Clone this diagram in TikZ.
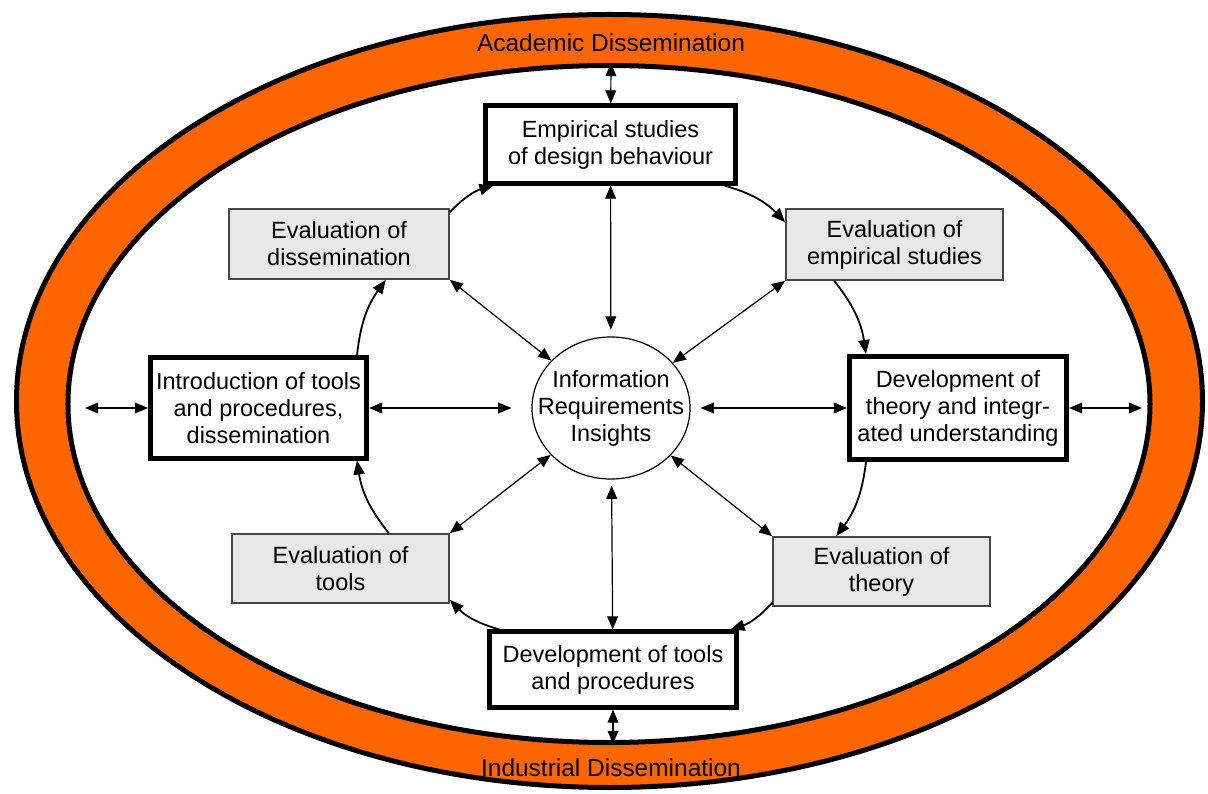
\documentclass[tikz,border=0pt]{standalone}
\usepackage{fontspec}
\setmainfont{Liberation Sans}
\usetikzlibrary{arrows.meta,shapes.geometric}

\definecolor{bandorange}{RGB}{255,102,0}
\definecolor{evalgray}{RGB}{232,232,232}
\definecolor{evalborder}{RGB}{70,70,70}

\tikzset{
  stagebox/.style={draw,line width=0.125cm,fill=white,align=center,inner sep=0pt},
  evalbox/.style={draw=evalborder,line width=0.04cm,fill=evalgray,align=center,inner sep=0pt,minimum width=5.425cm},
  twoway/.style={{Triangle[length=0.33cm,width=0.27cm]}-{Triangle[length=0.33cm,width=0.27cm]},line width=0.03cm},
  roundtrip/.style={-{Triangle[length=0.35cm,width=0.28cm]},line width=0.045cm,bend left=15}
}

\begin{document}
\begin{tikzpicture}[x=0.025cm,y=0.025cm,font=\fontsize{16.7}{19.2}\selectfont]
  \useasboundingbox (-609,-390) rectangle (599,404);
  \draw[line width=0.125cm,fill=bandorange] (0.5,3) ellipse [x radius=593,y radius=386.5];
  \draw[line width=0.125cm,fill=white] (0,0) ellipse [x radius=541,y radius=338.5];
  \node[font=\fontsize{17.4}{20}\selectfont] (academic) at (2,361) {Academic Dissemination};
  \node[font=\fontsize{17.4}{20}\selectfont] (industrial) at (2,-364) {Industrial Dissemination};
  \coordinate (academic end) at (2,341);
  \coordinate (industrial end) at (4,-340);
  \coordinate (left end) at (-524,-4);
  \coordinate (right end) at (533,-4);

  \node[stagebox,minimum width=6.225cm,minimum height=1.925cm] (empirical) at (1.5,259.5) {Empirical studies\\of design behaviour};
  \node[stagebox,minimum width=5.425cm,minimum height=2.575cm] (theory) at (349,-4) {Development of\\theory and integr-\\ated understanding};
  \node[stagebox,minimum width=6.15cm,minimum height=1.875cm] (tools) at (4,-265.5) {Development of tools\\and procedures};
  \node[stagebox,minimum width=5.4cm,minimum height=2.5cm] (intro) at (-350.5,-4) {Introduction of tools\\and procedures,\\dissemination};
  \node[draw,ellipse,line width=0.03cm,fill=white,minimum width=3.95cm,minimum height=3.55cm,inner sep=0pt,label={[align=center]center:Information\\Requirements\\Insights}] (insights) at (2,-4) {};

  \node[evalbox,minimum width=5.5cm,minimum height=1.75cm] (eval dissemination) at (-270,160) {Evaluation of\\dissemination};
  \node[evalbox,minimum height=1.775cm] (eval empirical) at (285.5,159.5) {Evaluation of\\empirical studies};
  \node[evalbox,minimum height=1.725cm] (eval tools) at (-268.5,-164.5) {Evaluation of\\tools};
  \node[evalbox,minimum height=1.725cm] (eval theory) at (272.5,-167.5) {Evaluation of\\theory};

  \draw[twoway] (academic end) -- (empirical);
  \draw[twoway] (tools) -- (industrial end);
  \draw[twoway] (left end) -- (intro);
  \draw[twoway] (theory) -- (right end);
  \draw[twoway,shorten >=0.5cm] (intro) -- (insights);
  \draw[twoway,shorten <=0.25cm] (insights) -- (theory);
  \draw[twoway,shorten >=0.17cm] (empirical) -- (insights);
  \draw[twoway,shorten <=0.15cm] (insights) -- (tools);
  \draw[twoway] (insights) -- (eval dissemination.south east);
  \draw[twoway] (insights) -- (eval empirical.south west);
  \draw[twoway] (insights) -- (eval tools.north east);
  \draw[twoway] (insights) -- (eval theory.north west);

  \draw[roundtrip] ([xshift=-0.325cm]empirical.south east) to ([yshift=-0.35cm]eval empirical.north west);
  \draw[roundtrip] ([xshift=1.225cm]eval empirical.south west) to ([xshift=0.475cm]theory.north west);
  \draw[roundtrip] ([xshift=0.475cm]theory.south west) to ([xshift=1.6cm]eval theory.north west);
  \draw[roundtrip] ([yshift=0.1cm]eval theory.south west) to ([xshift=-0.2cm]tools.north east);
  \draw[roundtrip] ([xshift=0.3cm]tools.north west) to ([yshift=0.1cm]eval tools.south east);
  \draw[roundtrip] ([xshift=-1.525cm]eval tools.north east) to ([xshift=-0.3cm]intro.south east);
  \draw[roundtrip] ([xshift=-0.3cm]intro.north east) to ([xshift=-1.6cm]eval dissemination.south east);
  \draw[roundtrip] ([yshift=-0.1cm]eval dissemination.north east) to ([xshift=0.25cm]empirical.south west);
\end{tikzpicture}
\end{document}
